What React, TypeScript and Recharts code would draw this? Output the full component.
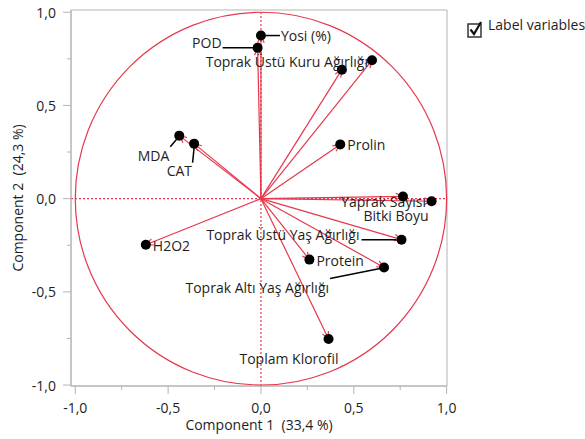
import React from "react";
import { ScatterChart, Scatter, XAxis, YAxis, ReferenceLine, ReferenceArea } from "recharts";

// loadings
const VARIABLES = [
  "Yosi (%)",
  "POD",
  "Toprak Altı Kuru Ağırlığı",
  "Toprak Üstü Kuru Ağırlığı",
  "Prolin",
  "MDA",
  "CAT",
  "Yaprak Sayısı",
  "Bitki Boyu",
  "H2O2",
  "Toprak Üstü Yaş Ağırlığı",
  "Protein",
  "Toprak Altı Yaş Ağırlığı",
  "Toplam Klorofil",
];
const COMPONENT_1 = [0.0, -0.018, 0.436, 0.598, 0.427, -0.44, -0.36, 0.765, 0.919, -0.62, 0.757, 0.261, 0.663, 0.364];
const COMPONENT_2 = [0.875, 0.809, 0.692, 0.742, 0.291, 0.338, 0.295, 0.012, -0.014, -0.247, -0.22, -0.327, -0.369, -0.753];

const AXIS_TICKS = [-1, -0.75, -0.5, -0.25, 0, 0.25, 0.5, 0.75, 1];

const RED = "#e6384d";
const GRAY = "#b4b4b4";
const INK = "#1e1e1e";
const FONT = "'Open Sans', 'Noto Sans', sans-serif";
const FS = 14;

// label placement relative to the dot (pixels); no entry = label hidden
const LABEL_LAYOUT: Record<string, { dx: number; dy: number; anchor: string; leader?: number[] }> = {
  "Yosi (%)": { dx: 20, dy: 0, anchor: "start", leader: [5, 0, 19, 0] },
  POD: { dx: -36, dy: -5, anchor: "end", leader: [-35, 0, -2, 0] },
  "Toprak Üstü Kuru Ağırlığı": { dx: -4, dy: 1, anchor: "end" },
  Prolin: { dx: 7, dy: 0, anchor: "start" },
  MDA: { dx: -10, dy: 20, anchor: "end", leader: [-9, 11, -3, 4] },
  CAT: { dx: -2, dy: 27, anchor: "end", leader: [-1.5, 19, 0, 4] },
  "Yaprak Sayısı": { dx: 23, dy: 5, anchor: "end" },
  "Bitki Boyu": { dx: -3, dy: 14, anchor: "end" },
  H2O2: { dx: 7, dy: 1, anchor: "start" },
  "Toprak Üstü Yaş Ağırlığı": { dx: -42, dy: -5, anchor: "end", leader: [-40, 0, -5, 0] },
  Protein: { dx: 7, dy: 1, anchor: "start" },
  "Toprak Altı Yaş Ağırlığı": { dx: -55, dy: 20, anchor: "end", leader: [-54, 11, -4, 1] },
  "Toplam Klorofil": { dx: 10, dy: 19, anchor: "end" },
};

const data = VARIABLES.map((name, i) => ({ name, x: COMPONENT_1[i], y: COMPONENT_2[i] }));

const fmt = (v: number) => v.toFixed(1).replace(".", ",");
const isMajor = (v: number) => Math.abs(v * 2 - Math.round(v * 2)) < 1e-6;

const YTick = (props: any) => {
  const { x, y, payload } = props;
  const major = isMajor(payload.value);
  return (
    <g>
      <line x1={x - (major ? 8 : 4)} x2={x} y1={y} y2={y} stroke={GRAY} />
      {major && (
        <text x={x - 15} y={y} textAnchor="end" dominantBaseline="central" fontSize={FS} fill={INK}>
          {fmt(payload.value)}
        </text>
      )}
    </g>
  );
};

const XTick = (props: any) => {
  const { x, y, payload } = props;
  const major = isMajor(payload.value);
  return (
    <g>
      <line x1={x} x2={x} y1={y} y2={y + (major ? 8 : 4)} stroke={GRAY} />
      {major && (
        <text x={x} y={y + 21} textAnchor="middle" dominantBaseline="central" fontSize={FS} fill={INK}>
          {fmt(payload.value)}
        </text>
      )}
    </g>
  );
};

const Arrow = (props: any) => {
  const { x1, y1, x2, y2 } = props;
  const ang = Math.atan2(y2 - y1, x2 - x1);
  const len = 8;
  const spread = 0.42;
  const ax = x2 - len * Math.cos(ang - spread);
  const ay = y2 - len * Math.sin(ang - spread);
  const bx = x2 - len * Math.cos(ang + spread);
  const by = y2 - len * Math.sin(ang + spread);
  return (
    <g>
      <line x1={x1} y1={y1} x2={x2} y2={y2} stroke={RED} strokeWidth={1.2} />
      <path d={`M${ax},${ay}L${x2},${y2}L${bx},${by}`} fill="none" stroke={RED} strokeWidth={1.2} />
    </g>
  );
};

const UnitCircle = (props: any) => {
  const { x, y, width, height } = props;
  return (
    <ellipse
      cx={x + width / 2}
      cy={y + height / 2}
      rx={width / 2}
      ry={height / 2}
      fill="none"
      stroke={RED}
      strokeWidth={1.2}
    />
  );
};

const VariablePoint = (props: any) => {
  const { cx, cy, payload } = props;
  const lay = LABEL_LAYOUT[payload.name];
  return (
    <g>
      {lay && lay.leader && (
        <line
          x1={cx + lay.leader[0]}
          y1={cy + lay.leader[1]}
          x2={cx + lay.leader[2]}
          y2={cy + lay.leader[3]}
          stroke="#000"
          strokeWidth={1.5}
        />
      )}
      {lay && (
        <text
          x={cx + lay.dx}
          y={cy + lay.dy}
          textAnchor={lay.anchor as any}
          dominantBaseline="central"
          fontSize={FS}
          fill={INK}
        >
          {payload.name}
        </text>
      )}
      <circle cx={cx} cy={cy} r={5} fill="#000" />
    </g>
  );
};

export default function App() {
  return (
    <div
      style={{
        position: "absolute",
        left: 0,
        top: 0,
        width: 585,
        height: 439,
        background: "#fff",
        fontFamily: FONT,
      }}
    >
      <ScatterChart width={585} height={439} margin={{ top: 10, right: 138, bottom: 0, left: 0 }}>
        <XAxis
          type="number"
          dataKey="x"
          domain={[-1.023, 1.002]}
          allowDataOverflow
          ticks={AXIS_TICKS}
          interval={0}
          tick={<XTick />}
          tickLine={false}
          tickSize={0}
          tickMargin={0}
          axisLine={{ stroke: GRAY }}
          height={53}
          label={{
            value: "Component 1\u00a0\u00a0(33,4 %)",
            position: "insideBottom",
            offset: 9,
            fontSize: FS,
            fill: INK,
          }}
        />
        <YAxis
          type="number"
          dataKey="y"
          domain={[-1.005, 1.012]}
          allowDataOverflow
          ticks={AXIS_TICKS}
          interval={0}
          tick={<YTick />}
          tickLine={false}
          tickSize={0}
          tickMargin={0}
          axisLine={{ stroke: GRAY }}
          width={71}
          label={{
            value: "Component 2\u00a0\u00a0(24,3 %)",
            angle: -90,
            position: "insideLeft",
            offset: 18,
            fontSize: FS,
            fill: INK,
            style: { textAnchor: "middle" },
          }}
        />
        <ReferenceArea x1={-1.023} x2={1.002} y1={-1.005} y2={1.012} fill="none" stroke={GRAY} ifOverflow="visible" />
        <ReferenceLine x={0} stroke={RED} strokeDasharray="2 2" strokeWidth={1.2} />
        <ReferenceLine y={0} stroke={RED} strokeDasharray="2 2" strokeWidth={1.2} />
        <ReferenceArea x1={-1} x2={1} y1={-1} y2={1} ifOverflow="visible" shape={<UnitCircle />} />
        {data.map((d) => (
          <ReferenceLine
            key={d.name}
            segment={[
              { x: 0, y: 0 },
              { x: d.x, y: d.y },
            ]}
            ifOverflow="visible"
            shape={<Arrow />}
          />
        ))}
        <Scatter data={data} dataKey="y" shape={<VariablePoint />} isAnimationActive={false} />
      </ScatterChart>
      <div
        style={{
          position: "absolute",
          left: 467,
          top: 17,
          display: "flex",
          alignItems: "flex-start",
          fontSize: FS,
          color: INK,
          whiteSpace: "nowrap",
        }}
      >
        <svg width={16} height={20} style={{ marginTop: 3 }}>
          <rect x={1} y={4} width={13} height={13} fill="#fff" stroke="#333" strokeWidth={1.5} />
          <path d="M3.5,9.5 L7,14 L14,2" fill="none" stroke="#111" strokeWidth={2.2} />
        </svg>
        <span style={{ marginLeft: 5, lineHeight: "16px" }}>Label variables</span>
      </div>
    </div>
  );
}
